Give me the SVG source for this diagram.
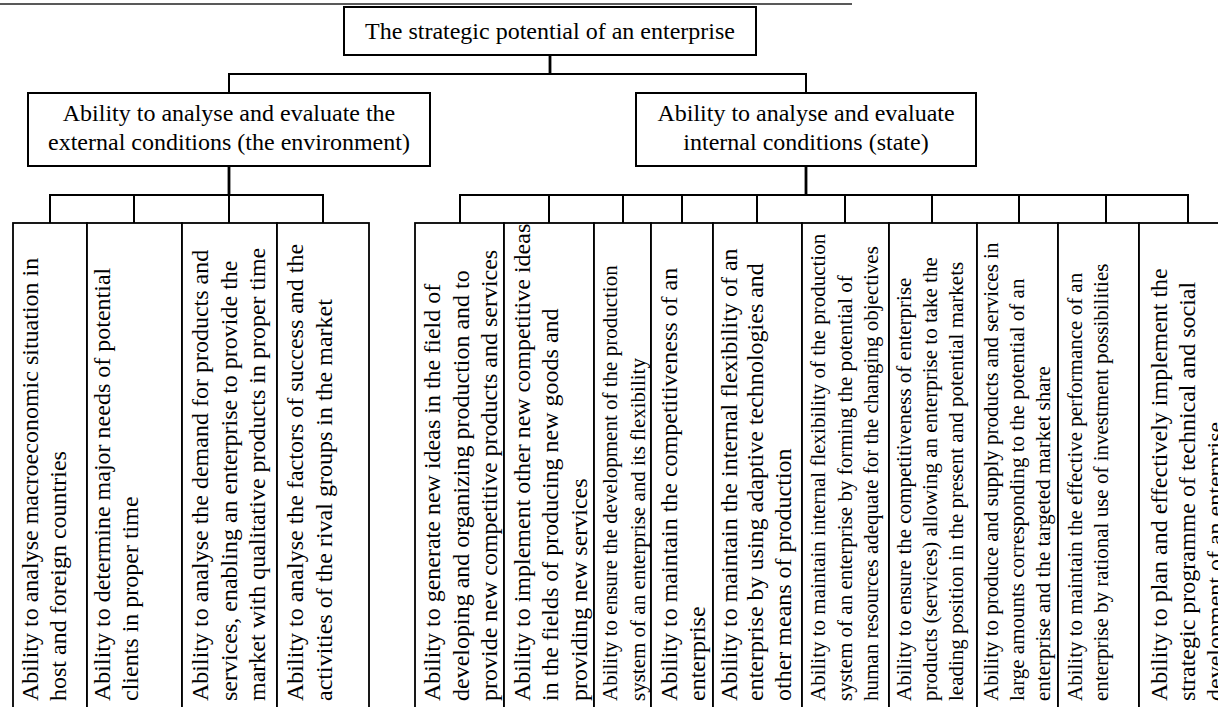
<svg xmlns="http://www.w3.org/2000/svg" width="1218" height="707" viewBox="0 0 1218 707">
<style>
text{font-family:"Liberation Serif","Times New Roman",serif;fill:#000}
.h{font-size:24px;text-anchor:middle}
.b{font-size:24px}
.s{font-size:21px}
.box{fill:#fff;stroke:#000;stroke-width:2}
.leaf{fill:#fff;stroke:#000;stroke-width:1.8}
.c{fill:none;stroke:#000;stroke-width:2}
.m{fill:none;stroke:#000;stroke-width:2.8}
</style>
<rect width="1218" height="707" fill="#fff"/>
<line x1="0" y1="4" x2="852" y2="4" stroke="#222" stroke-width="1.5"/>
<g id="connectors">
<path class="m" d="M550 55V74"/>
<path class="c" d="M229 93V74H806V93"/>
<path class="m" d="M229 166V195M806 166V195"/>
<path class="c" d="M50 223V195H323V223M134 195V223M229 195V223"/>
<path class="c" d="M460 223V195H1188V223M549 195V223M623 195V223M682 195V223M757 195V223M806 195V196M845 195V223M932 195V223M1019 195V223M1106 195V223"/>
</g>
<g id="root">
<rect class="box" x="344" y="7" width="412" height="48"/>
<text class="h" x="550" y="39">The strategic potential of an enterprise</text>
</g>
<g id="external">
<rect class="box" x="28" y="93" width="402" height="73"/>
<text class="h" x="229" y="121">Ability to analyse and evaluate the</text>
<text class="h" x="229" y="150">external conditions (the environment)</text>
</g>
<g id="internal">
<rect class="box" x="636" y="93" width="340" height="73"/>
<text class="h" x="806" y="121">Ability to analyse and evaluate</text>
<text class="h" x="806" y="150">internal conditions (state)</text>
</g>
<g id="L1"><rect class="leaf" x="13" y="223" width="74" height="500"/>
<text class="b" transform="translate(38,701) rotate(-90)">Ability to analyse macroeconomic situation in</text>
<text class="b" transform="translate(66,701) rotate(-90)">host and foreign countries</text></g>
<g id="L2"><rect class="leaf" x="87" y="223" width="95" height="500"/>
<text class="b" transform="translate(110,701) rotate(-90)">Ability to determine major needs of potential</text>
<text class="b" transform="translate(138,701) rotate(-90)">clients in proper time</text></g>
<g id="L3"><rect class="leaf" x="182" y="223" width="95" height="500"/>
<text class="b" transform="translate(208,701) rotate(-90)">Ability to analyse the demand for products and</text>
<text class="b" transform="translate(237,701) rotate(-90)">services, enabling an enterprise to provide the</text>
<text class="b" transform="translate(265,701) rotate(-90)">market with qualitative products in proper time</text></g>
<g id="L4"><rect class="leaf" x="277" y="223" width="92" height="500"/>
<text class="b" transform="translate(303,701) rotate(-90)">Ability to analyse the factors of success and the</text>
<text class="b" transform="translate(332,701) rotate(-90)">activities of the rival groups in the market</text></g>
<g id="R1"><rect class="leaf" x="415" y="223" width="89" height="500"/>
<text class="b" transform="translate(440,701) rotate(-90)">Ability to generate new ideas in the field of</text>
<text class="b" transform="translate(469,701) rotate(-90)">developing and organizing production and to</text>
<text class="b" transform="translate(497,701) rotate(-90)">provide new competitive products and services</text></g>
<g id="R2"><rect class="leaf" x="504" y="223" width="90" height="500"/>
<text class="b" transform="translate(530,701) rotate(-90)">Ability to implement other new competitive ideas</text>
<text class="b" transform="translate(558,701) rotate(-90)">in the fields of producing new goods and</text>
<text class="b" transform="translate(587,701) rotate(-90)">providing new services</text></g>
<g id="R3"><rect class="leaf" x="594" y="223" width="57" height="500"/>
<text class="s" transform="translate(617,701) rotate(-90)">Ability to ensure the development of the production</text>
<text class="s" transform="translate(645,701) rotate(-90)">system of an enterprise and its flexibility</text></g>
<g id="R4"><rect class="leaf" x="651" y="223" width="62" height="500"/>
<text class="b" transform="translate(677,701) rotate(-90)">Ability to maintain the competitiveness of an</text>
<text class="b" transform="translate(705,701) rotate(-90)">enterprise</text></g>
<g id="R5"><rect class="leaf" x="713" y="223" width="89" height="500"/>
<text class="b" transform="translate(737,701) rotate(-90)">Ability to maintain the internal flexibility of an</text>
<text class="b" transform="translate(763,701) rotate(-90)">enterprise by using adaptive technologies and</text>
<text class="b" transform="translate(791,701) rotate(-90)">other means of production</text></g>
<g id="R6"><rect class="leaf" x="802" y="223" width="87" height="500"/>
<text class="s" transform="translate(825,701) rotate(-90)">Ability to maintain internal flexibility of the production</text>
<text class="s" transform="translate(852,701) rotate(-90)">system of an enterprise by forming the potential of</text>
<text class="s" transform="translate(878,701) rotate(-90)">human resources adequate for the changing objectives</text></g>
<g id="R7"><rect class="leaf" x="889" y="223" width="88" height="500"/>
<text class="s" transform="translate(911,701) rotate(-90)">Ability to ensure the competitiveness of enterprise</text>
<text class="s" transform="translate(937,701) rotate(-90)">products (services) allowing an enterprise to take the</text>
<text class="s" transform="translate(963,701) rotate(-90)">leading position in the present and potential markets</text></g>
<g id="R8"><rect class="leaf" x="977" y="223" width="81" height="500"/>
<text class="s" transform="translate(998,701) rotate(-90)">Ability to produce and supply products and services in</text>
<text class="s" transform="translate(1024,701) rotate(-90)">large amounts corresponding to the potential of an</text>
<text class="s" transform="translate(1050,701) rotate(-90)">enterprise and the targeted market share</text></g>
<g id="R9"><rect class="leaf" x="1058" y="223" width="81" height="500"/>
<text class="s" transform="translate(1082,701) rotate(-90)">Ability to maintain the effective performance of an</text>
<text class="s" transform="translate(1108,701) rotate(-90)">enterprise by rational use of investment possibilities</text></g>
<g id="R10"><rect class="leaf" x="1139" y="223" width="100" height="500"/>
<text class="b" transform="translate(1167,701) rotate(-90)">Ability to plan and effectively implement the</text>
<text class="b" transform="translate(1195,701) rotate(-90)">strategic programme of technical and social</text>
<text class="b" transform="translate(1223,701) rotate(-90)">development of an enterprise</text></g>
</svg>
